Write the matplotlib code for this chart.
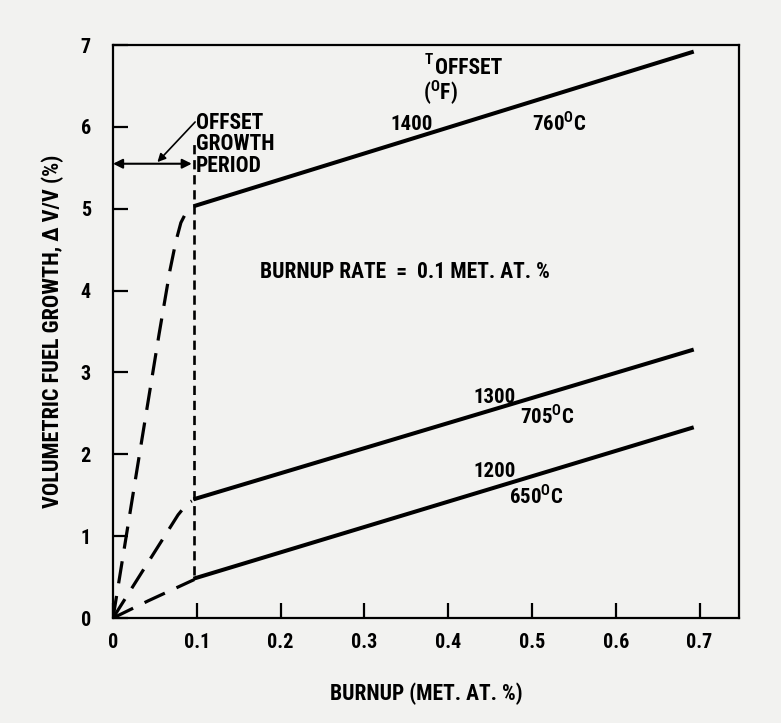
import numpy as np
import matplotlib
matplotlib.use("Agg")
import matplotlib.pyplot as plt
from matplotlib import font_manager

# pick a narrow sans if one is installed
installed = set(f.name for f in font_manager.fontManager.ttflist)
narrow = [n for n in ['Liberation Sans Narrow', 'DejaVu Sans Condensed', 'Roboto Condensed',
                      'Open Sans Condensed', 'Liberation Sans'] if n in installed]
plt.rcParams['font.family'] = narrow[:1] + ['DejaVu Sans']
plt.rcParams['font.weight'] = 'bold'
plt.rcParams['axes.labelweight'] = 'bold'

# offset growth period (dashed) curves, burnup vs growth
x_1400_off = [0, 0.03, 0.055, 0.068, 0.075, 0.081, 0.087, 0.093]
y_1400_off = [0, 1.9, 3.47, 4.25, 4.6, 4.83, 4.95, 5.01]
x_1300_off = [0, 0.04, 0.0776, 0.084, 0.089, 0.094]
y_1300_off = [0, 0.65, 1.26, 1.34, 1.40, 1.43]
x_1200_off = [0, 0.042, 0.097]
y_1200_off = [0, 0.21, 0.47]

# steady growth after the offset period (solid)
x_steady = [0.096, 0.693]
y_1400 = [5.03, 6.92]
y_1300 = [1.45, 3.28]
y_1200 = [0.48, 2.33]

offset_end = 0.097
arrow_y = 5.55

fig = plt.figure(figsize=(7.81, 7.23), dpi=100)
fig.patch.set_facecolor('#f2f2f0')
ax = fig.add_axes([0.1447, 0.1452, 0.8015, 0.7925])
ax.set_facecolor('#f2f2f0')

lw = 2.9
for xs, ys in [(x_1400_off, y_1400_off), (x_1300_off, y_1300_off), (x_1200_off, y_1200_off)]:
    ax.plot(xs, ys, color='black', lw=2.3, dashes=(7, 4), solid_joinstyle='round')
for ys in [y_1400, y_1300, y_1200]:
    ax.plot(x_steady, ys, color='black', lw=lw, solid_capstyle='butt')

# end of offset growth period
ax.plot([offset_end, offset_end], [0.52, 5.85], color='black', lw=1.9, dashes=(3.5, 2.2))

ax.annotate('', xy=(0, arrow_y), xytext=(offset_end - 0.003, arrow_y),
            arrowprops=dict(arrowstyle='<|-|>', color='black', lw=1.5,
                            mutation_scale=14, shrinkA=0, shrinkB=0))
ax.annotate('', xy=(0.053, arrow_y + 0.02), xytext=(0.098, 6.06),
            arrowprops=dict(arrowstyle='-|>', color='black', lw=1.2,
                            mutation_scale=12, shrinkA=0, shrinkB=0))
for label, yb in [('OFFSET', 5.98), ('GROWTH', 5.72), ('PERIOD', 5.45)]:
    ax.text(0.099, yb, label, fontsize=15.5, ha='left', va='baseline')

ax.text(0.372, 6.77, 'T', fontsize=11, ha='left', va='baseline')
ax.text(0.384, 6.65, 'OFFSET', fontsize=15.5, ha='left', va='baseline')
ax.text(0.370, 6.33, '($^\\mathregular{O}$F)', fontsize=15.5, ha='left', va='baseline')
ax.text(0.331, 5.96, '1400', fontsize=15, ha='left', va='baseline')
ax.text(0.500, 5.96, '760$^\\mathregular{O}$C', fontsize=15, ha='left', va='baseline')

ax.text(0.175, 4.16, 'BURNUP RATE  =  0.1 MET. AT. %', fontsize=15.5, ha='left', va='baseline')

ax.text(0.430, 2.63, '1300', fontsize=15, ha='left', va='baseline')
ax.text(0.486, 2.38, '705$^\\mathregular{O}$C', fontsize=15, ha='left', va='baseline')
ax.text(0.430, 1.72, '1200', fontsize=15, ha='left', va='baseline')
ax.text(0.472, 1.40, '650$^\\mathregular{O}$C', fontsize=15, ha='left', va='baseline')

ax.set_xlim(0, 0.747)
ax.set_ylim(0, 7)
ax.set_xticks([0, 0.1, 0.2, 0.3, 0.4, 0.5, 0.6, 0.7])
ax.set_xticklabels(['0', '0.1', '0.2', '0.3', '0.4', '0.5', '0.6', '0.7'])
ax.set_yticks(range(8))
ax.tick_params(direction='in', length=11, width=1.6, labelsize=14.5, pad=11,
               top=False, right=False)
ax.tick_params(axis='y', pad=16)
for s in ax.spines.values():
    s.set_linewidth(1.6)

ax.set_xlabel('BURNUP (MET. AT. %)', fontsize=15.5, labelpad=22)
ax.set_ylabel('VOLUMETRIC FUEL GROWTH, Δ V/V (%)', fontsize=16)
ax.yaxis.set_label_coords(-0.078, 0.5)

fig.savefig('out.png', dpi=100, facecolor=fig.get_facecolor())
